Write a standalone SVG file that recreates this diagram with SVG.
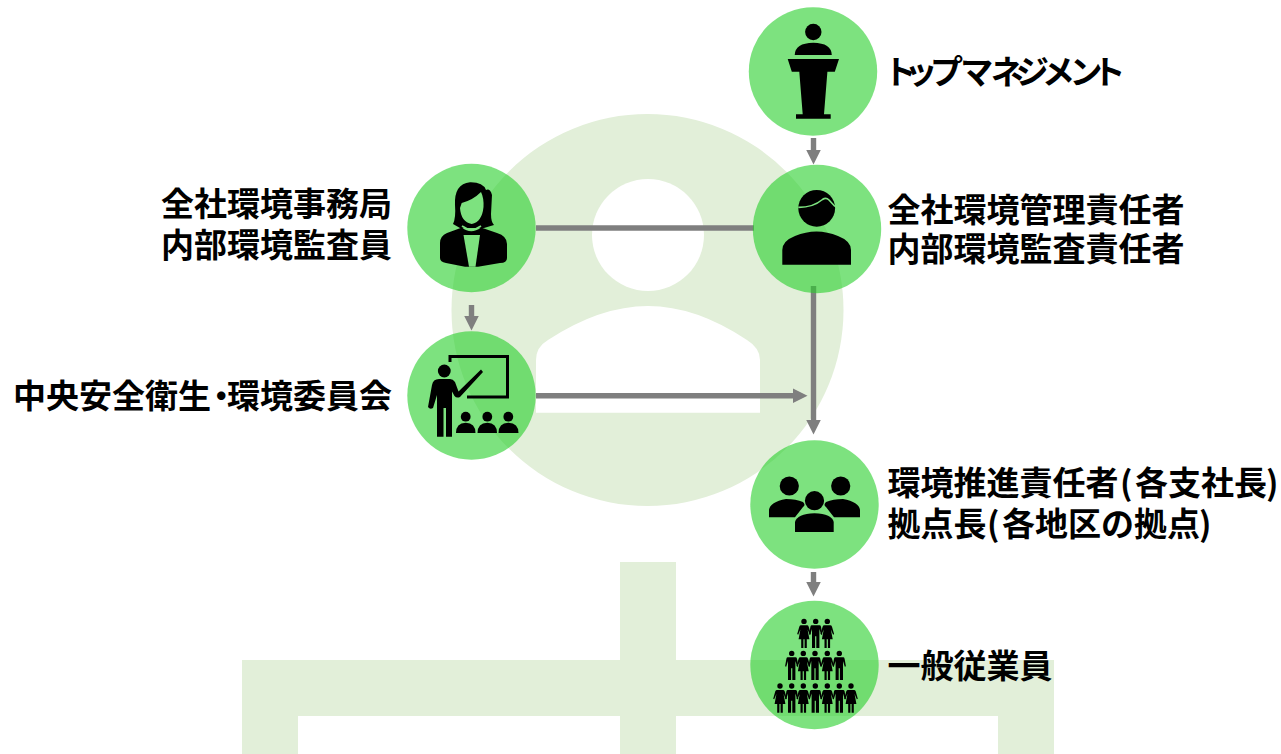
<svg xmlns="http://www.w3.org/2000/svg" width="1281" height="754" viewBox="0 0 1281 754">
<style>
.bg{fill:#e2efd9}
.hole{fill:#fff}
.disc{fill:#26cf2a;fill-opacity:.6}
.ico{fill:#000}
.conn{stroke:#7f7f7f;stroke-width:5.4;fill:none}
.t{font-family:"Noto Sans CJK JP","Noto Sans CJK SC",sans-serif;font-weight:700;font-size:33px;fill:#000}
.p{font-feature-settings:"palt"}
.e{text-anchor:end}
</style>
<defs>
<marker id="ah" markerUnits="userSpaceOnUse" markerWidth="16" markerHeight="16" refX="0.5" refY="8" orient="auto"><path d="M0 .5L15 8L0 15.5Z" fill="#7f7f7f"/></marker>
<symbol id="man" overflow="visible"><circle cx="0" cy="2.7" r="2.7"/><path d="M-3.9 6.6H3.9Q5 6.6 5.3 8L6.6 15.6L5.5 16L3.7 10.2V29.4H.6V17.5H-.6V29.4H-3.7V10.2L-5.5 16L-6.6 15.6L-5.3 8Q-5 6.6-3.9 6.6Z"/></symbol>
<symbol id="woman" overflow="visible"><circle cx="0" cy="2.7" r="2.7"/><path d="M-3 6.6H3Q4.2 6.6 4.7 8L6.8 15.4L5.8 16L3.6 10.8L5.4 20.6H2.8V29.4H.6V20.6H-.6V29.4H-2.8V20.6H-5.4L-3.6 10.8L-5.8 16L-6.8 15.4L-4.7 8Q-4.2 6.6-3 6.6Z"/></symbol>
</defs>
<g id="background">
<circle class="bg" cx="647.5" cy="310" r="196"/>
<circle class="hole" cx="648" cy="235" r="56"/>
<path class="hole" d="M536 412.7V360Q536 347 548 340Q600 306 648 306Q696 306 747 340Q760 348 760 360V412.7Z"/>
<path class="bg" d="M620 562H676V660H1054V754H998V716H676V754H620V716H298V754H242V660H620Z"/>
</g>
<g id="connectors">
<line class="conn" x1="813.5" y1="138" x2="813.5" y2="150" marker-end="url(#ah)"/>
<line class="conn" x1="536" y1="228" x2="754" y2="228"/>
<line class="conn" x1="471.5" y1="305" x2="471.5" y2="316" marker-end="url(#ah)"/>
<line class="conn" x1="536" y1="395.7" x2="793" y2="395.7" marker-end="url(#ah)"/>
<line class="conn" x1="813.5" y1="286" x2="813.5" y2="420" marker-end="url(#ah)"/>
<line class="conn" x1="813.5" y1="572" x2="813.5" y2="582" marker-end="url(#ah)"/>
</g>
<g id="node-top">
<circle class="disc" cx="813" cy="71.5" r="64.2"/>
<g class="ico"><circle cx="813.3" cy="32" r="8.2"/><path d="M794.7 55Q795 43 813.3 42.7Q831.5 43 831.8 55Z"/><path d="M787.7 59H839L834.8 71.7H827.4L824 114.3H830.7V118.7H796V114.3H802.7L799.3 71.7H791.8Z"/></g>
<text class="t p" x="887 907.5 931 962 991 1016 1044 1071 1096" y="84">トップマネジメント</text>
</g>
<g id="node-manager">
<circle class="disc" cx="817" cy="229" r="64.2"/>
<g class="ico"><circle cx="816.7" cy="208.3" r="18.4"/><path d="M782.3 264.7V250Q782.3 241 795 236Q816.5 227 838 236Q851 241 851 250V264.7Z"/></g>
<path d="M798.3 207.4Q813 207.5 822.5 199.5Q826 197 829 200L835 206.5" fill="none" stroke="#7de27f" stroke-width="1.6"/>
<text class="t" x="887.5" y="221.5">全社環境管理責任者</text>
<text class="t" x="887.5" y="261">内部環境監査責任者</text>
</g>
<g id="node-secretariat">
<circle class="disc" cx="471.5" cy="228" r="64.2"/>
<path class="ico" d="M470 182.3Q483 182 486 190Q490 188 492 195L491 214Q491 222 494 225L484 228L460 228L453 224Q456 218 455 205Q454 184 470 182.3Z"/>
<path d="M461.7 203Q473 200 481 192Q484 198 483.5 207Q482 222 471.7 224Q461 222 460 208Z" fill="#7de27f"/>
<path class="ico" d="M440 258V243Q440 236 447 233L462 227.5Q471 235 481 227.5L497 233Q507 236 507 244V258Q507 263 500 263L478 266.7H465L446 263Q440 262 440 258Z"/>
<path d="M463.5 235H480L475.5 266.7H469Z" fill="#7de27f"/>
<path d="M462 226Q471.5 233 481 226" fill="none" stroke="#7de27f" stroke-width="1.6"/>
<text class="t e" x="392" y="216">全社環境事務局</text>
<text class="t e" x="392" y="256.5">内部環境監査員</text>
</g>
<g id="node-committee">
<circle class="disc" cx="471.5" cy="395.5" r="64.2"/>
<path d="M450 362V356.5H507.5V397H467" fill="none" stroke="#000" stroke-width="3"/>
<g class="ico"><circle cx="444.3" cy="371" r="6.4"/>
<path d="M439 379H450Q453 379 455 382L458.5 391.5L481 369.5L483 372L460 397Q456.5 398.5 454.5 396L452 391.5V436.7H446V408H443.5V436.7H437V395L433 408Q430 410 428 407L432 385Q433 379 439 379Z"/>
<circle cx="465.7" cy="416.7" r="4.9"/><circle cx="487.3" cy="416.7" r="4.9"/><circle cx="508.3" cy="416.7" r="4.9"/>
<path d="M456 433Q456 423 465.7 422.7Q475.5 423 475.5 433Z"/><path d="M477.5 433Q477.5 423 487.3 422.7Q497 423 497 433Z"/><path d="M498.5 433Q498.5 423 508.3 422.7Q518.5 423 518.5 433Z"/></g>
<text class="t" y="408"><tspan x="13">中央安全衛生</tspan><tspan class="p" x="213">・</tspan><tspan x="227">環境委員会</tspan></text>
</g>
<g id="node-promoters">
<circle class="disc" cx="814.5" cy="504.5" r="64.2"/>
<g class="ico"><circle cx="789.3" cy="486" r="9.6"/><circle cx="840.7" cy="486" r="9.6"/><circle cx="814.5" cy="500.7" r="9.6"/>
<path d="M769 517.3V510Q770 502 786 499Q796 499 803 502Q806 505 803 507L795 517.3Z"/><path d="M860 517.3V510Q859 502 843 499Q833 499 826 502Q823 505 826 507L834 517.3Z"/>
<path d="M795 532V522Q797 514 814.5 513.3Q832 514 833.7 522V532Z"/></g>
<text class="t" y="495"><tspan x="887.5">環境推進責任者</tspan><tspan x="1120">(</tspan><tspan x="1135">各支社長</tspan><tspan x="1266">)</tspan></text>
<text class="t" y="536"><tspan x="887.5">拠点長</tspan><tspan x="987">(</tspan><tspan x="1002">各地区の拠点</tspan><tspan x="1199">)</tspan></text>
</g>
<g id="node-employees">
<circle class="disc" cx="814.5" cy="665" r="64.2"/>
<g class="ico">
<use href="#woman" x="804" y="618.7"/><use href="#man" x="815.7" y="618.7"/><use href="#woman" x="827.3" y="618.7"/>
<use href="#man" x="791.7" y="650.7"/><use href="#woman" x="803.3" y="650.7"/><use href="#man" x="815" y="650.7"/><use href="#woman" x="827.3" y="650.7"/><use href="#man" x="839.3" y="650.7"/>
<use href="#woman" x="780" y="683.3"/><use href="#man" x="791.7" y="683.3"/><use href="#woman" x="803.3" y="683.3"/><use href="#man" x="815.3" y="683.3"/><use href="#woman" x="827.3" y="683.3"/><use href="#man" x="839.3" y="683.3"/><use href="#woman" x="851" y="683.3"/>
</g>
<text class="t" x="887.5" y="677.5">一般従業員</text>
</g>
</svg>
